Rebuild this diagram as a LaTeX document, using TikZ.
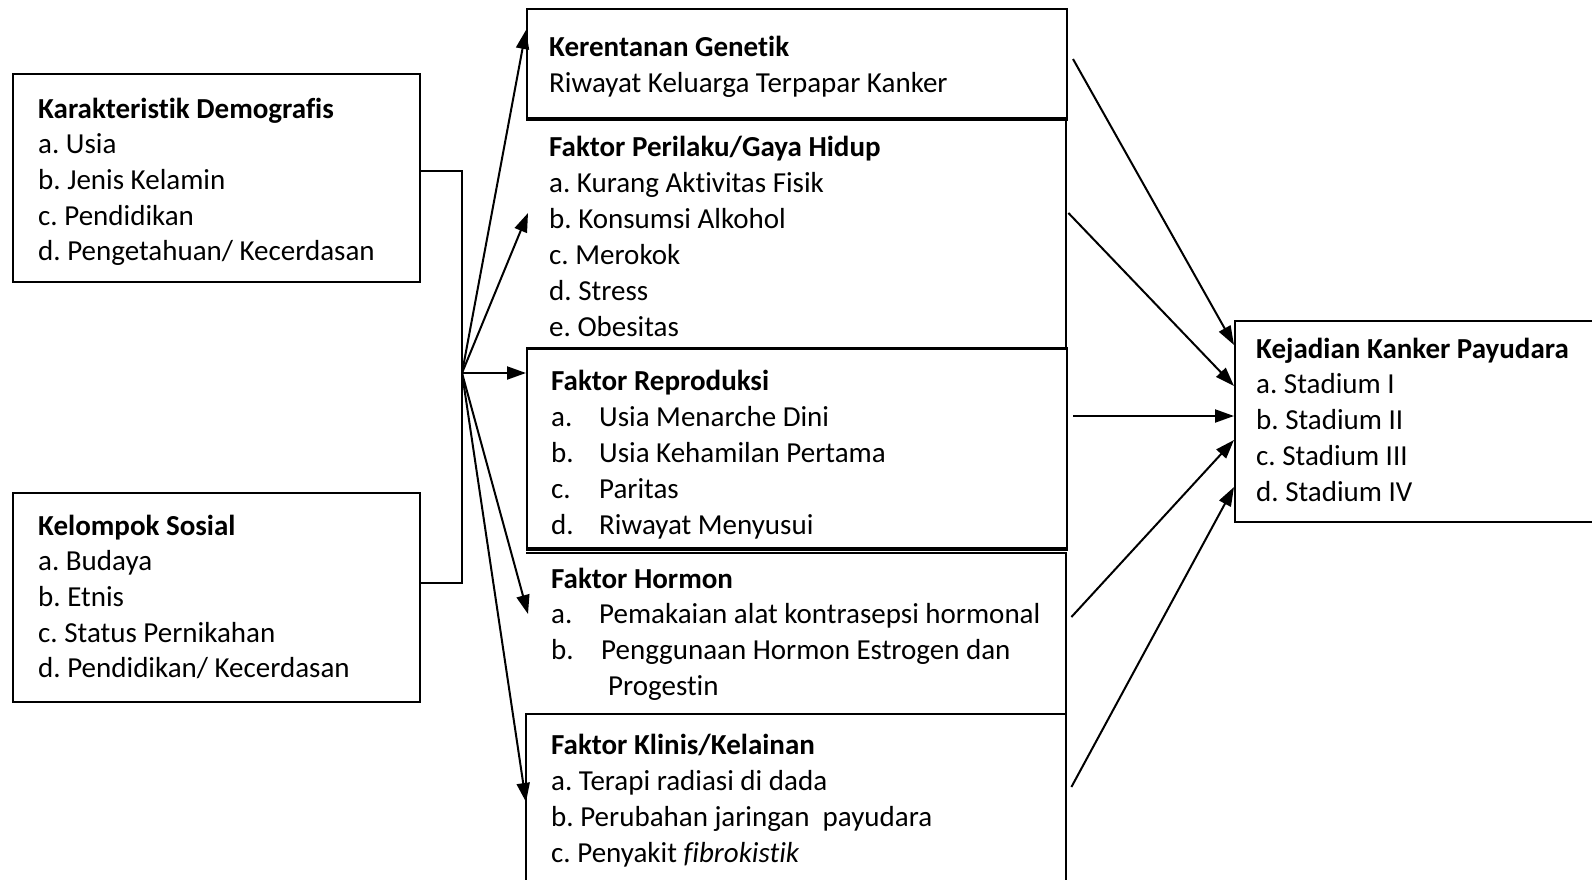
\documentclass[tikz,border=0pt]{standalone}
\usepackage{fontspec}
\setmainfont{Carlito}[Ligatures={NoCommon}]
\frenchspacing
\usetikzlibrary{arrows.meta,calc}
\begin{document}
\begin{tikzpicture}[x=1pt,y=-1pt,
  box/.style={draw, line width=2pt, rectangle, inner sep=0pt, anchor=north west},
  area/.style={rectangle, inner sep=0pt, anchor=north west},
  txt/.style={anchor=base west, inner sep=0pt, font=\fontsize{29}{35}\selectfont\frenchspacing},
  arr/.style={line width=2pt, -{Triangle[length=19pt,width=13pt]}},
  ln/.style={line width=2pt}]
\useasboundingbox (0,0) rectangle (1592,880);
\fill[white] (0,0) rectangle (1592,880);

% left boxes
\node[box, minimum width=407pt, minimum height=208pt] (kd) at (12,73) {};
\node[box, minimum width=407pt, minimum height=209pt] (ks) at (12,492) {};

% middle column
\node[box, minimum width=540pt, minimum height=109pt] (gen) at (526,8) {};
\draw[line width=3.5pt] (gen.south west) -- (gen.south east);
\node[area, minimum width=540pt, minimum height=231pt] (per) at (526,117) {};
\draw[ln] (per.north east) -- (per.south east);
\node[box, minimum width=540pt, minimum height=199pt] (rep) at (526,348) {};
\draw[line width=3pt] (rep.north west) -- (rep.north east);
\draw[line width=3pt] (rep.south west) -- (rep.south east);
\node[area, minimum width=540pt, minimum height=161pt] (hor) at (526,553) {};
\draw[ln] (hor.north west) -- (hor.north east) -- (hor.south east);
\node[area, minimum width=540pt, minimum height=180pt] (kli) at (526,714) {};
\draw[ln] (kli.south west) -- (kli.north west) -- (kli.north east) -- (kli.south east);

% outcome box
\node[box, minimum width=370pt, minimum height=201pt] (out) at (1234,320) {};

% hub connectors
\coordinate (hub) at (462,373);
\draw[ln] ([yshift=-98pt]kd.north east) -| (hub);
\draw[ln] ([yshift=-91pt]ks.north east) -| (hub);

\draw[arr] (hub) -- (gen.west |- 0,30);
\draw[arr] (hub) -- ($(per.west |- 0,213)+(2,0)$);
\draw[arr] (hub) -- (rep.west |- 0,373);
\draw[arr] (hub) -- ($(hor.west |- 0,614)+(2,0)$);
\draw[arr] (hub) -- (kli.west |- 0,802);

% arrows to outcome
\draw[arr] ($(gen.east |- 0,59)+(5,0)$) -- (out.west |- 0,345);
\draw[arr] ($(per.east |- 0,213)+(2,0)$) -- (out.west |- 0,386);
\draw[arr] ($(rep.east |- 0,416)+(5,0)$) -- (out.west |- 0,416);
\draw[arr] ($(hor.east |- 0,617)+(5,0)$) -- (out.west |- 0,440);
\draw[arr] ($(kli.east |- 0,787)+(5,0)$) -- (out.west |- 0,487);

% texts
\foreach \t [count=\i] in {{\textbf{Karakteristik Demografis}}, a. Usia, b. Jenis Kelamin, c. Pendidikan, d. Pengetahuan/ Kecerdasan}
  \node[txt] (kdt\i) at (38,{118+35.7*(\i-1)}) {\t};
\foreach \t [count=\i] in {{\textbf{Kelompok Sosial}}, a. Budaya, b. Etnis, c. Status Pernikahan, d. Pendidikan/ Kecerdasan}
  \node[txt] (kst\i) at (38,{535+35.7*(\i-1)}) {\t};
\foreach \t [count=\i] in {{\textbf{Kerentanan Genetik}}, Riwayat Keluarga Terpapar Kanker}
  \node[txt] (gent\i) at (549,{57+35.5*(\i-1)}) {\t};
\foreach \t [count=\i] in {{\textbf{Faktor Perilaku/Gaya Hidup}}, a. Kurang Aktivitas Fisik, b. Konsumsi Alkohol, c. Merokok, d. Stress, e. Obesitas}
  \node[txt] (pert\i) at (549,{157+35.8*(\i-1)}) {\t};
\foreach \t [count=\i] in {{\textbf{Faktor Reproduksi}}, \makebox[48pt][l]{a.}Usia Menarche Dini, \makebox[48pt][l]{b.}Usia Kehamilan Pertama, \makebox[48pt][l]{c.}Paritas, \makebox[48pt][l]{d.}Riwayat Menyusui}
  \node[txt] (rept\i) at (551,{390+36*(\i-1)}) {\t};
\foreach \t [count=\i] in {{\textbf{Faktor Hormon}}, \makebox[48pt][l]{a.}Pemakaian alat kontrasepsi hormonal, \makebox[50pt][l]{b.}Penggunaan Hormon Estrogen dan, \hspace*{57pt}Progestin}
  \node[txt] (hort\i) at (551,{588+35.7*(\i-1)}) {\t};
\foreach \t [count=\i] in {{\textbf{Faktor Klinis/Kelainan}}, a. Terapi radiasi di dada, b. Perubahan jaringan\ \ payudara, c. Penyakit \textit{fibrokistik}}
  \node[txt] (klit\i) at (551,{754+36*(\i-1)}) {\t};
\foreach \t [count=\i] in {{\textbf{Kejadian Kanker Payudara}}, a. Stadium I, b. Stadium II, c. Stadium III, d. Stadium IV}
  \node[txt] (outt\i) at (1256,{358+35.8*(\i-1)}) {\t};
\end{tikzpicture}
\end{document}
